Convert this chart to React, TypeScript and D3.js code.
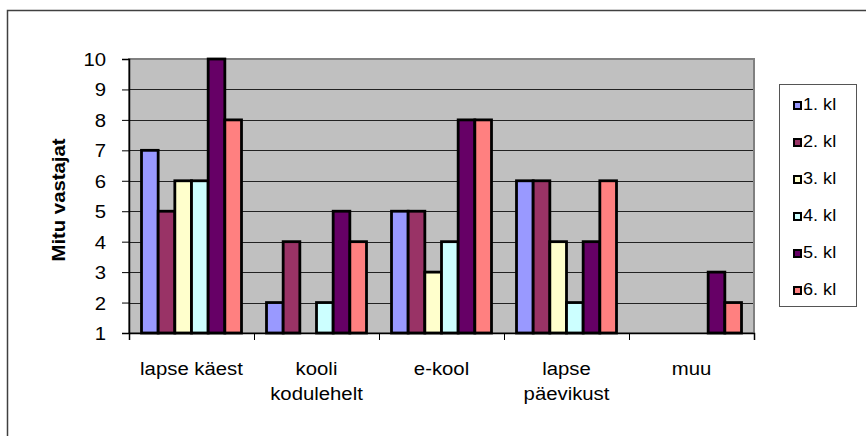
import { useEffect, useRef } from "react";
import * as d3 from "d3";

// chart data
const categories = [
  ["lapse käest"],
  ["kooli", "kodulehelt"],
  ["e-kool"],
  ["lapse", "päevikust"],
  ["muu"],
];
const seriesNames = ["1. kl", "2. kl", "3. kl", "4. kl", "5. kl", "6. kl"];
const seriesColors = ["#9999FF", "#993366", "#FFFFCC", "#CCFFFF", "#660066", "#FF8080"];
// values per category, one per series (null = no bar)
const values: (number | null)[][] = [
  [7, 5, 6, 6, 10, 8],
  [2, 4, null, 2, 5, 4],
  [5, 5, 3, 4, 8, 8],
  [6, 6, 4, 2, 4, 6],
  [null, null, null, null, 3, 2],
];
const yTicks = [1, 2, 3, 4, 5, 6, 7, 8, 9, 10];
const yLabel = "Mitu vastajat";

const FONT = "'Liberation Sans', Arial, sans-serif";
const STRETCH = 1.13; // the source text is a bit wider than plain Arial

export default function App() {
  const svgRef = useRef<SVGSVGElement | null>(null);

  useEffect(() => {
    if (!svgRef.current) return;
    const width = 866;
    const height = 436;
    const plot = { left: 129, top: 59, right: 754, bottom: 333 };

    const svg = d3.select(svgRef.current);
    svg.selectAll("*").remove();

    svg.append("rect").attr("width", width).attr("height", height).attr("fill", "#fff");

    // outer chart frame (runs past the bottom and right edges)
    svg
      .append("rect")
      .attr("x", 7.5)
      .attr("y", 10.5)
      .attr("width", 900)
      .attr("height", 500)
      .attr("fill", "none")
      .attr("stroke", "#404040")
      .attr("stroke-width", 1.5);

    const x0 = d3
      .scaleBand<number>()
      .domain(d3.range(categories.length))
      .range([plot.left, plot.right])
      .paddingInner(0.2)
      .paddingOuter(0.1);
    const x1 = d3
      .scaleBand<number>()
      .domain(d3.range(seriesNames.length))
      .range([0, x0.bandwidth()]);
    const y = d3.scaleLinear().domain([1, 10]).range([plot.bottom, plot.top]);

    // plot background
    svg
      .append("rect")
      .attr("x", plot.left)
      .attr("y", plot.top)
      .attr("width", plot.right - plot.left)
      .attr("height", plot.bottom - plot.top)
      .attr("fill", "#C0C0C0")
      .attr("stroke", "#808080")
      .attr("stroke-width", 2);

    // gridlines
    svg
      .append("g")
      .selectAll("line")
      .data(yTicks.slice(1, -1))
      .join("line")
      .attr("x1", plot.left)
      .attr("x2", plot.right - 1)
      .attr("y1", (d) => Math.round(y(d)) + 0.5)
      .attr("y2", (d) => Math.round(y(d)) + 0.5)
      .attr("stroke", "#222")
      .attr("stroke-width", 1);

    // bars
    const groups = svg
      .append("g")
      .selectAll("g")
      .data(values)
      .join("g")
      .attr("transform", (_, i) => `translate(${x0(i)},0)`);
    groups
      .selectAll("rect")
      .data((row) => row.map((v, j) => ({ v, j })).filter((d) => d.v !== null && d.v > 1))
      .join("rect")
      .attr("x", (d) => x1(d.j)!)
      .attr("y", (d) => y(d.v as number))
      .attr("width", x1.bandwidth())
      .attr("height", (d) => plot.bottom - y(d.v as number))
      .attr("fill", (d) => seriesColors[d.j])
      .attr("stroke", "#000")
      .attr("stroke-width", 2.8);

    // y axis
    const yAxis = d3.axisLeft(y).tickValues(yTicks).tickSize(7).tickPadding(0).tickFormat(() => "");
    const gy = svg.append("g").attr("transform", `translate(${plot.left},0)`).call(yAxis);
    gy.select(".domain").attr("stroke", "#000").attr("stroke-width", 1.5);
    gy.selectAll(".tick line").attr("stroke", "#000");

    svg
      .append("g")
      .selectAll("text")
      .data(yTicks)
      .join("text")
      .attr("transform", (d) => `translate(106,${y(d) + 7}) scale(${STRETCH},1)`)
      .attr("text-anchor", "end")
      .attr("font-family", FONT)
      .attr("font-size", 18)
      .attr("fill", "#000")
      .text((d) => d);

    // x axis
    const xAxis = d3
      .axisBottom(d3.scaleLinear().domain([0, categories.length]).range([plot.left, plot.right]))
      .tickValues(d3.range(categories.length + 1))
      .tickSize(7)
      .tickFormat(() => "");
    const gx = svg.append("g").attr("transform", `translate(0,${plot.bottom})`).call(xAxis);
    gx.select(".domain").attr("stroke", "#000").attr("stroke-width", 1.5);
    gx.selectAll(".tick line").attr("stroke", "#000");

    const xLabels = svg
      .append("g")
      .selectAll("g")
      .data(categories)
      .join("g")
      .attr("transform", (_, i) => `translate(${x0(i)! + x0.bandwidth() / 2},0)`);
    xLabels
      .selectAll("text")
      .data((lines) => lines)
      .join("text")
      .attr("transform", (_, k) => `translate(0,${375 + k * 25}) scale(${STRETCH},1)`)
      .attr("text-anchor", "middle")
      .attr("font-family", FONT)
      .attr("font-size", 18)
      .attr("fill", "#000")
      .text((d) => d);

    // y axis title
    svg
      .append("text")
      .attr("transform", `translate(65,${(plot.top + plot.bottom) / 2 + 4}) rotate(-90) scale(${STRETCH},1)`)
      .attr("text-anchor", "middle")
      .attr("font-family", FONT)
      .attr("font-size", 18)
      .attr("font-weight", "bold")
      .attr("fill", "#000")
      .text(yLabel);

    // legend
    const legend = svg.append("g");
    legend
      .append("rect")
      .attr("x", 779.5)
      .attr("y", 84.5)
      .attr("width", 77)
      .attr("height", 222)
      .attr("fill", "#fff")
      .attr("stroke", "#555")
      .attr("stroke-width", 1);
    const items = legend
      .selectAll("g")
      .data(seriesNames)
      .join("g")
      .attr("transform", (_, i) => `translate(0,${110 + i * 37})`);
    items
      .append("rect")
      .attr("x", 794)
      .attr("y", -8)
      .attr("width", 7)
      .attr("height", 7)
      .attr("fill", (_, i) => seriesColors[i])
      .attr("stroke", "#000")
      .attr("stroke-width", 2);
    items
      .append("text")
      .attr("transform", `translate(803,0) scale(${STRETCH},1)`)
      .attr("font-family", FONT)
      .attr("font-size", 16)
      .attr("fill", "#000")
      .text((d) => d);
  }, []);

  return (
    <svg
      ref={svgRef}
      width={866}
      height={436}
      style={{ position: "absolute", left: 0, top: 0, display: "block" }}
    ></svg>
  );
}
